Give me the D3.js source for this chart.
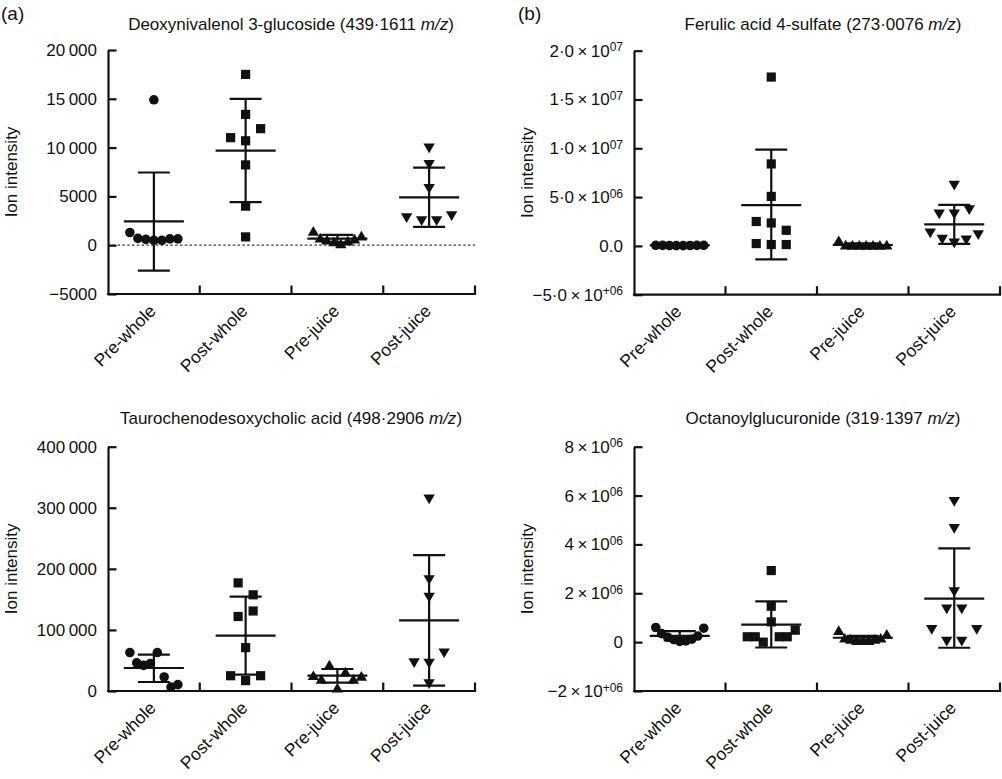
<!DOCTYPE html>
<html><head><meta charset="utf-8">
<script src="https://cdn.jsdelivr.net/npm/d3@7/dist/d3.min.js"></script>
<style>
body{margin:0;background:#fff}
text{font-family:"Liberation Sans", Arial, Helvetica, sans-serif; fill:#111}
</style>
</head><body>
<svg id="c" width="1002" height="779"></svg>
<script>
// ---------- DATA ----------
const categories = ["Pre-whole", "Post-whole", "Pre-juice", "Post-juice"];
const markerShapes = ["circle", "square", "triangleUp", "triangleDown"];
const yAxisTitle = "Ion intensity";

// (a) top-left: Deoxynivalenol 3-glucoside
const deoxyName = "Deoxynivalenol 3-glucoside";
const deoxyMz = "439·1611";
const deoxyPreWhole  = [14900, 1300, 700, 600, 500, 500, 650, 650];
const deoxyPostWhole = [17500, 13400, 11020, 10700, 11940, 8230, 4000, 850];
const deoxyPreJuice  = [1400, 700, 500, 300, 100, 400, 600, 900];
const deoxyPostJuice = [10000, 8300, 5850, 2850, 2550, 2550, 3050];
const deoxyMean   = [2450, 9700, 680, 4900];
const deoxySdHigh = [7450, 15000, 1050, 7950];
const deoxySdLow  = [-2600, 4420, 300, 1870];
const deoxyTicks  = [-5000, 0, 5000, 10000, 15000, 20000];
const deoxyTickLabels = [["−5000",""],["0",""],["5000",""],["10\u2009000",""],["15\u2009000",""],["20\u2009000",""]];

// (b) top-right: Ferulic acid 4-sulfate
const ferulicName = "Ferulic acid 4-sulfate";
const ferulicMz = "273·0076";
const ferulicPreWhole  = [60000, 50000, 40000, 30000, 30000, 40000, 50000, 60000];
const ferulicPostWhole = [17300000, 8400000, 5070000, 2500000, 2350000, 1600000, 240000, 140000, 140000];
const ferulicPreJuice  = [500000, 50000, 30000, 20000, 20000, 20000, 30000, 50000];
const ferulicPostJuice = [6260000, 3300000, 3300000, 3740000, 1360000, 710000, 340000, 650000, 1190000];
const ferulicMean   = [50000, 4180000, 90000, 2210000];
const ferulicSdHigh = [80000, 9860000, 250000, 4200000];
const ferulicSdLow  = [20000, -1390000, -70000, 200000];
const ferulicTicks  = [-5000000, 0, 5000000, 10000000, 15000000, 20000000];
const ferulicTickLabels = [["−5·0\u2009×\u200910","+06"],["0.0",""],["5·0\u2009×\u200910","06"],["1·0\u2009×\u200910","07"],["1·5\u2009×\u200910","07"],["2·0\u2009×\u200910","07"]];

// (a) bottom-left: Taurochenodesoxycholic acid
const tauroName = "Taurochenodesoxycholic acid";
const tauroMz = "498·2906";
const tauroPreWhole  = [63000, 46000, 42000, 45000, 63000, 23000, 6500, 10400];
const tauroPostWhole = [177000, 157500, 122000, 131000, 71000, 25000, 17000, 25000];
const tauroPreJuice  = [24600, 18600, 42000, 4400, 30600, 18600, 23500];
const tauroPostJuice = [315000, 183000, 154000, 47000, 46000, 63000, 12600];
const tauroMean   = [37650, 90600, 25100, 115700];
const tauroSdHigh = [59500, 154400, 36000, 222600];
const tauroSdLow  = [14700, 26800, 13600, 8700];
const tauroTicks  = [0, 100000, 200000, 300000, 400000];
const tauroTickLabels = [["0",""],["100\u2009000",""],["200\u2009000",""],["300\u2009000",""],["400\u2009000",""]];

// (b) bottom-right: Octanoylglucuronide
const octName = "Octanoylglucuronide";
const octMz = "319·1397";
const octPreWhole  = [600000, 350000, 200000, 100000, 30000, 50000, 120000, 250000, 570000];
const octPostWhole = [2930000, 1470000, 220000, 220000, 0, 830000, 220000, 220000, 490000];
const octPreJuice  = [460000, 150000, 100000, 50000, 50000, 50000, 100000, 150000, 310000];
const octPostJuice = [5770000, 4670000, 2080000, 1370000, 1370000, 530000, 50000, 50000, 530000];
const octMean   = [260000, 720000, 180000, 1780000];
const octSdHigh = [450000, 1670000, 260000, 3840000];
const octSdLow  = [70000, -220000, 80000, -230000];
const octTicks  = [-2000000, 0, 2000000, 4000000, 6000000, 8000000];
const octTickLabels = [["−2\u2009×\u200910","+06"],["0",""],["2\u2009×\u200910","06"],["4\u2009×\u200910","06"],["6\u2009×\u200910","06"],["8\u2009×\u200910","06"]];

// ---------- DRAW ----------
const svg = d3.select("#c");
const INK = "#111";

const panels = [
  {name: deoxyName, mz: deoxyMz, values: [deoxyPreWhole, deoxyPostWhole, deoxyPreJuice, deoxyPostJuice],
   mean: deoxyMean, hi: deoxySdHigh, lo: deoxySdLow, ticks: deoxyTicks, labels: deoxyTickLabels,
   left: 108, right: 475, top: 50, bottom: 294, titleX: 291, titleY: 30, ylabX: 17, zeroLine: true,
   letter: "(a)", letterX: 1, letterY: 20},
  {name: ferulicName, mz: ferulicMz, values: [ferulicPreWhole, ferulicPostWhole, ferulicPreJuice, ferulicPostJuice],
   mean: ferulicMean, hi: ferulicSdHigh, lo: ferulicSdLow, ticks: ferulicTicks, labels: ferulicTickLabels,
   left: 634, right: 1000, top: 50.7, bottom: 294.7, titleX: 823, titleY: 30, ylabX: 533, zeroLine: false,
   letter: "(b)", letterX: 518, letterY: 20},
  {name: tauroName, mz: tauroMz, values: [tauroPreWhole, tauroPostWhole, tauroPreJuice, tauroPostJuice],
   mean: tauroMean, hi: tauroSdHigh, lo: tauroSdLow, ticks: tauroTicks, labels: tauroTickLabels,
   left: 108, right: 475, top: 446.7, bottom: 691, titleX: 291, titleY: 424, ylabX: 17, zeroLine: false},
  {name: octName, mz: octMz, values: [octPreWhole, octPostWhole, octPreJuice, octPostJuice],
   mean: octMean, hi: octSdHigh, lo: octSdLow, ticks: octTicks, labels: octTickLabels,
   left: 634, right: 1000, top: 446.7, bottom: 691, titleX: 823, titleY: 424, ylabX: 533, zeroLine: false}
];

function swarmX(vals, y, cx) {
  const idx = vals.map((v, i) => i).sort((a, b) => vals[b] - vals[a]);
  const rows = [];
  let cur = [idx[0]];
  for (let k = 1; k < idx.length; k++) {
    if (Math.abs(y(vals[idx[k]]) - y(vals[idx[k - 1]])) < 12) cur.push(idx[k]);
    else { rows.push(cur); cur = [idx[k]]; }
  }
  rows.push(cur);
  const xs = new Array(vals.length);
  rows.forEach(r => {
    r.sort((a, b) => a - b);
    const n = r.length;
    const s = n > 1 ? Math.min(15, 48 / (n - 1)) : 0;
    r.forEach((i, j) => { xs[i] = cx + (j - (n - 1) / 2) * s; });
  });
  return xs;
}

function markerPath(shape) {
  if (shape === "circle") return "M4.8,0A4.8,4.8 0 1,1 -4.8,0A4.8,4.8 0 1,1 4.8,0Z";
  if (shape === "square") return "M-4.6,-4.6H4.6V4.6H-4.6Z";
  if (shape === "triangleUp") return "M0,-5.6L5.7,4.1L-5.7,4.1Z";
  return "M0,5.6L5.7,-4.1L-5.7,-4.1Z";
}

panels.forEach(p => {
  const g = svg.append("g");
  const x = d3.scaleBand().domain(categories).range([p.left, p.right]).padding(0);
  const y = d3.scaleLinear().domain([p.ticks[0], p.ticks[p.ticks.length - 1]]).range([p.bottom, p.top]);
  const bw = x.bandwidth();

  // title
  const t = g.append("text").attr("x", p.titleX).attr("y", p.titleY)
    .attr("text-anchor", "middle").style("font-size", "17px");
  t.append("tspan").text(p.name + " (" + p.mz + " ");
  t.append("tspan").style("font-style", "italic").text("m/z");
  t.append("tspan").text(")");

  if (p.letter) {
    g.append("text").attr("x", p.letterX).attr("y", p.letterY).style("font-size", "19px").text(p.letter);
  }

  // y axis title
  g.append("text").attr("transform", `translate(${p.ylabX},${(p.top + p.bottom) / 2}) rotate(-90)`)
    .attr("text-anchor", "middle").style("font-size", "17px").text(yAxisTitle);

  // zero dotted line
  if (p.zeroLine) {
    g.append("line").attr("x1", p.left).attr("x2", p.right).attr("y1", y(0)).attr("y2", y(0))
      .attr("stroke", "#333").attr("stroke-width", 1.3).attr("stroke-dasharray", "2.4,2.4");
  }

  // y axis
  const ya = g.append("g").attr("transform", `translate(${p.left},0)`)
    .call(d3.axisLeft(y).tickValues(p.ticks).tickSize(-8.5).tickSizeOuter(0).tickPadding(11).tickFormat(() => ""));
  ya.select(".domain").attr("stroke", INK).attr("stroke-width", 2.2);
  ya.selectAll(".tick line").attr("stroke", INK).attr("stroke-width", 2.2);
  ya.selectAll(".tick text").each(function (d, i) {
    const el = d3.select(this).attr("fill", INK).style("font-size", "17px").attr("font-family", null);
    const lab = p.labels[i];
    el.append("tspan").text(lab[0]);
    if (lab[1]) el.append("tspan").attr("dy", "-0.45em").style("font-size", "12px").text(lab[1]);
  });
  ya.selectAll(".tick text").attr("x", -11);

  // x axis
  g.append("line").attr("x1", p.left - 1.1).attr("x2", p.right + 1.1).attr("y1", p.bottom).attr("y2", p.bottom)
    .attr("stroke", INK).attr("stroke-width", 2.2);
  g.selectAll(".xtick").data(categories).enter().append("line")
    .attr("x1", d => x(d) + bw).attr("x2", d => x(d) + bw)
    .attr("y1", p.bottom).attr("y2", p.bottom - 8.5)
    .attr("stroke", INK).attr("stroke-width", 2.2);
  g.selectAll(".xlab").data(categories).enter().append("text")
    .attr("transform", d => `translate(${x(d) + bw / 2 + 3},${p.bottom + 18}) rotate(-45)`)
    .attr("text-anchor", "end").style("font-size", "17.5px").text(d => d);

  // points
  categories.forEach((c, ci) => {
    const vals = p.values[ci];
    const cx = x(c) + bw / 2;
    const xs = swarmX(vals, y, cx);
    g.selectAll(null).data(vals).enter().append("path")
      .attr("d", markerPath(markerShapes[ci]))
      .attr("transform", (v, i) => `translate(${xs[i]},${y(v)})`)
      .attr("fill", INK);

    // mean & SD
    const eb = g.append("g").attr("stroke", INK).attr("stroke-width", 2.2).attr("fill", "none");
    eb.append("line").attr("x1", cx).attr("x2", cx).attr("y1", y(p.hi[ci])).attr("y2", y(p.lo[ci]));
    eb.append("line").attr("x1", cx - 16).attr("x2", cx + 16).attr("y1", y(p.hi[ci])).attr("y2", y(p.hi[ci]));
    eb.append("line").attr("x1", cx - 16).attr("x2", cx + 16).attr("y1", y(p.lo[ci])).attr("y2", y(p.lo[ci]));
    eb.append("line").attr("x1", cx - 30).attr("x2", cx + 30).attr("y1", y(p.mean[ci])).attr("y2", y(p.mean[ci]));
  });
});
</script>
</body></html>
